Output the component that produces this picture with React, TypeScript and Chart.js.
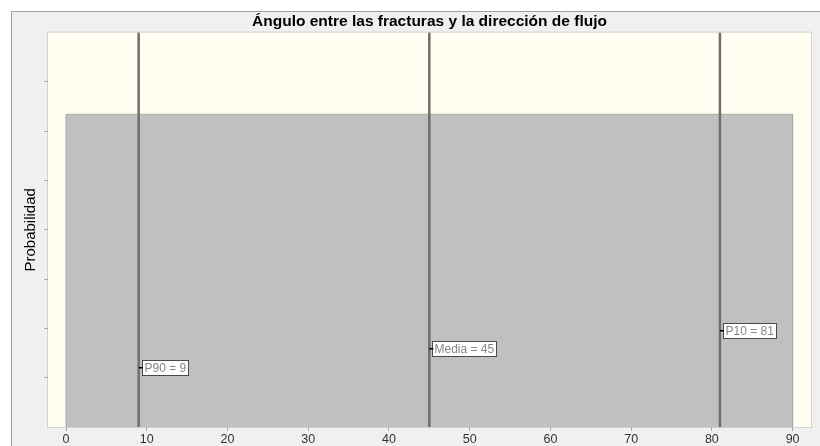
import React, { useEffect, useRef } from 'react';
import { Chart, registerables } from 'chart.js';

Chart.register(...registerables);

const FONT = "'Liberation Sans', Arial, sans-serif";

const TITLE = 'Ángulo entre las fracturas y la dirección de flujo';
const Y_TITLE = 'Probabilidad';

// axis layout
const X_RANGE = [-2.23, 92.28];
const X_TICKS = [0, 10, 20, 30, 40, 50, 60, 70, 80, 90];
const Y_MAX = 0.014;
const Y_TICKS = [0.00175, 0.0035, 0.00525, 0.007, 0.00875, 0.0105, 0.01225];

// uniform distribution between 0 and 90 degrees
const UNIFORM_LOW = 0;
const UNIFORM_HIGH = 90;
const UNIFORM_DENSITY = 0.0111;

// percentile / mean markers
const MARKER_NAMES = ['P90', 'Media', 'P10'];
const MARKER_VALUES = [9, 45, 81];
const MARKER_TAG_LEVELS = [0.0021, 0.00276, 0.00339];

const framePlugin = {
  id: 'frame',
  beforeDraw(chart: any) {
    const { ctx, width, height, chartArea: a } = chart;
    ctx.save();
    ctx.fillStyle = '#ffffff';
    ctx.fillRect(0, 0, width, height);
    ctx.fillStyle = '#f0f0f0';
    ctx.fillRect(11, 11, width - 11, height - 11);
    ctx.strokeStyle = '#a0a0a0';
    ctx.lineWidth = 1;
    ctx.beginPath();
    ctx.moveTo(11.5, height);
    ctx.lineTo(11.5, 11.5);
    ctx.lineTo(width, 11.5);
    ctx.stroke();
    ctx.fillStyle = '#fffef0';
    ctx.fillRect(a.left, a.top, a.right - a.left, a.bottom - a.top);
    ctx.strokeStyle = '#d2d2d2';
    ctx.strokeRect(a.left - 0.5, a.top - 0.5, a.right - a.left + 1, a.bottom - a.top + 1);
    ctx.restore();
  },
};

const tagPlugin = {
  id: 'valueTags',
  afterDatasetsDraw(chart: any) {
    const { ctx } = chart;
    const x = chart.scales.x;
    const y = chart.scales.y;
    ctx.save();
    ctx.font = `12px ${FONT}`;
    ctx.textBaseline = 'middle';
    ctx.textAlign = 'left';
    MARKER_VALUES.forEach((v, i) => {
      const px = x.getPixelForValue(v);
      const py = Math.round(y.getPixelForValue(MARKER_TAG_LEVELS[i]));
      const label = `${MARKER_NAMES[i]} = ${v}`;
      const w = Math.ceil(ctx.measureText(label).width) + 4;
      const h = 15;
      const bx = Math.round(px + 3) + 0.5;
      const by = py - 7.5;
      ctx.fillStyle = '#ffffff';
      ctx.fillRect(bx, by, w, h);
      ctx.strokeStyle = '#4a4a4a';
      ctx.lineWidth = 1;
      ctx.strokeRect(bx, by, w, h);
      ctx.fillStyle = '#858585';
      ctx.fillText(label, bx + 2, by + h / 2 + 0.5);
      ctx.fillStyle = '#000000';
      ctx.fillRect(px, py - 1, 4, 1.5);
    });
    ctx.restore();
  },
};

export default function App() {
  const canvasRef = useRef<HTMLCanvasElement | null>(null);

  useEffect(() => {
    const canvas = canvasRef.current;
    if (!canvas) return;

    const datasets: any[] = [
      {
        data: [
          { x: UNIFORM_LOW, y: 0 },
          { x: UNIFORM_LOW, y: UNIFORM_DENSITY },
          { x: UNIFORM_HIGH, y: UNIFORM_DENSITY },
          { x: UNIFORM_HIGH, y: 0 },
        ],
        order: 5,
        showLine: true,
        fill: 'origin',
        backgroundColor: '#c0c0c0',
        borderColor: '#ababab',
        borderWidth: 1,
        pointRadius: 0,
        tension: 0,
      },
      ...MARKER_VALUES.map((v) => ({
        data: [
          { x: v, y: 0 },
          { x: v, y: Y_MAX },
        ],
        order: 1,
        showLine: true,
        fill: false,
        borderColor: '#6e6e6e',
        borderWidth: 2.5,
        pointRadius: 0,
      })),
    ];

    const chart = new Chart(canvas, {
      type: 'scatter',
      data: { datasets },
      options: {
        responsive: false,
        animation: false,
        events: [],
        layout: { padding: { left: 11, top: 11, right: 9, bottom: 0 } },
        plugins: {
          legend: { display: false },
          tooltip: { enabled: false },
          title: {
            display: true,
            text: TITLE,
            color: '#000000',
            fullSize: false,
            font: { family: FONT, size: 15.5, weight: 'bold' },
            padding: { top: 1, bottom: 2 },
          },
        },
        scales: {
          x: {
            type: 'linear',
            min: X_RANGE[0],
            max: X_RANGE[1],
            afterBuildTicks: (s: any) => {
              s.ticks = X_TICKS.map((v) => ({ value: v }));
            },
            afterFit: (s: any) => {
              s.height = 19;
            },
            ticks: {
              color: '#333333',
              font: { family: FONT, size: 12.5 },
              padding: 1,
              maxRotation: 0,
              autoSkip: false,
            },
            grid: { drawOnChartArea: false, tickLength: 4, color: '#a8a8a8' },
            border: { display: false },
          },
          y: {
            type: 'linear',
            min: 0,
            max: Y_MAX,
            afterBuildTicks: (s: any) => {
              s.ticks = Y_TICKS.map((v) => ({ value: v }));
            },
            afterFit: (s: any) => {
              s.width = 37;
            },
            ticks: { display: false },
            grid: { drawOnChartArea: false, tickLength: 4, color: '#a8a8a8' },
            border: { display: false },
            title: {
              display: true,
              text: Y_TITLE,
              color: '#000000',
              font: { family: FONT, size: 15 },
              padding: { top: 11, bottom: 0 },
            },
          },
        },
      } as any,
      plugins: [framePlugin, tagPlugin],
    });

    return () => chart.destroy();
  }, []);

  return (
    <div style={{ position: 'fixed', left: 0, top: 0, width: 820, height: 446, background: '#ffffff' }}>
      <canvas ref={canvasRef} width={820} height={446} style={{ display: 'block' }} />
    </div>
  );
}
